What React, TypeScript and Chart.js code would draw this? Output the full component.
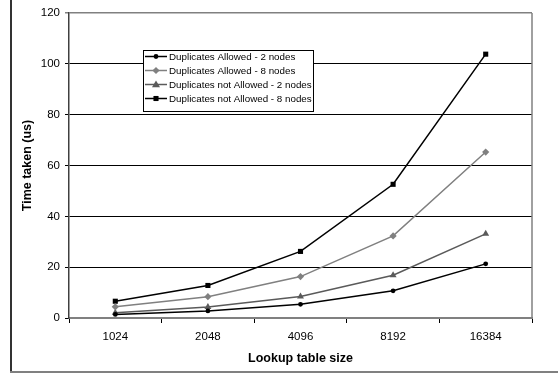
import React, { useEffect, useRef } from "react";
import { Chart, registerables } from "chart.js";

Chart.register(...registerables);

const categories = ["1024", "2048", "4096", "8192", "16384"];
const seriesNames = [
  "Duplicates Allowed - 2 nodes",
  "Duplicates Allowed - 8 nodes",
  "Duplicates not Allowed - 2 nodes",
  "Duplicates not Allowed - 8 nodes",
];
const dupAllowed2 = [1.4, 2.8, 5.4, 10.7, 21.3];
const dupAllowed8 = [4.4, 8.4, 16.3, 32.3, 65.3];
const notAllowed2 = [2.1, 4.3, 8.5, 16.8, 33.1];
const notAllowed8 = [6.6, 12.8, 26.2, 52.6, 103.8];
const yTicks = [0, 20, 40, 60, 80, 100, 120];

const FONT = "'Liberation Sans', Arial, sans-serif";

function drawMarker(ctx: CanvasRenderingContext2D, style: string, x: number, y: number, r: number, color: string) {
  ctx.save();
  ctx.fillStyle = color;
  ctx.beginPath();
  if (style === "circle") {
    ctx.arc(x, y, r, 0, Math.PI * 2);
  } else if (style === "rectRot") {
    ctx.moveTo(x, y - r);
    ctx.lineTo(x + r, y);
    ctx.lineTo(x, y + r);
    ctx.lineTo(x - r, y);
    ctx.closePath();
  } else if (style === "triangle") {
    ctx.moveTo(x, y - r);
    ctx.lineTo(x + r, y + r * 0.7);
    ctx.lineTo(x - r, y + r * 0.7);
    ctx.closePath();
  } else {
    const s = r * Math.SQRT1_2;
    ctx.rect(x - s, y - s, 2 * s, 2 * s);
  }
  ctx.fill();
  ctx.restore();
}

const framePlugin = {
  id: "frame",
  afterDraw(chart: any) {
    const ctx: CanvasRenderingContext2D = chart.ctx;
    const area = chart.chartArea;
    ctx.save();
    ctx.strokeStyle = "#808080";
    ctx.lineWidth = 1.5;
    ctx.beginPath();
    ctx.moveTo(area.right, area.top);
    ctx.lineTo(area.right, area.bottom);
    ctx.stroke();
    ctx.strokeStyle = "#333333";
    ctx.lineWidth = 2;
    ctx.beginPath();
    ctx.moveTo(11, 0);
    ctx.lineTo(11, 373);
    ctx.stroke();
    ctx.strokeStyle = "#808080";
    ctx.beginPath();
    ctx.moveTo(10, 372);
    ctx.lineTo(558, 372);
    ctx.stroke();

    const lx = 143, ly = 50, lw = 170, lh = 61;
    ctx.fillStyle = "#ffffff";
    ctx.fillRect(lx, ly, lw, lh);
    ctx.strokeStyle = "#000000";
    ctx.lineWidth = 1;
    ctx.strokeRect(lx + 0.5, ly + 0.5, lw, lh);
    ctx.font = `9.8px ${FONT}`;
    ctx.textBaseline = "middle";
    ctx.textAlign = "left";
    chart.data.datasets.forEach((ds: any, i: number) => {
      const y = ly + 6.5 + i * 14;
      ctx.strokeStyle = ds.borderColor;
      ctx.lineWidth = 1.5;
      ctx.beginPath();
      ctx.moveTo(lx + 2, y);
      ctx.lineTo(lx + 24, y);
      ctx.stroke();
      drawMarker(ctx, ds.pointStyle, lx + 13, y, ds.pointRadius, ds.pointBackgroundColor);
      ctx.fillStyle = "#000000";
      ctx.fillText(ds.label, lx + 26, y + 0.5);
    });
    ctx.restore();
  },
};

export default function App() {
  const canvasRef = useRef<HTMLCanvasElement | null>(null);

  useEffect(() => {
    document.body.style.margin = "0";
    const canvas = canvasRef.current;
    if (!canvas) return;
    const chart = new Chart(canvas, {
      type: "line",
      data: {
        labels: categories,
        datasets: [
          {
            label: seriesNames[0],
            data: dupAllowed2,
            borderColor: "#000000",
            backgroundColor: "#000000",
            pointBackgroundColor: "#000000",
            pointBorderWidth: 0,
            pointStyle: "circle",
            pointRadius: 2.4,
            borderWidth: 1.5,
          },
          {
            label: seriesNames[1],
            data: dupAllowed8,
            borderColor: "#808080",
            backgroundColor: "#808080",
            pointBackgroundColor: "#808080",
            pointBorderWidth: 0,
            pointStyle: "rectRot",
            pointRadius: 3.6,
            borderWidth: 1.5,
          },
          {
            label: seriesNames[2],
            data: notAllowed2,
            borderColor: "#5a5a5a",
            backgroundColor: "#5a5a5a",
            pointBackgroundColor: "#5a5a5a",
            pointBorderWidth: 0,
            pointStyle: "triangle",
            pointRadius: 4,
            borderWidth: 1.5,
          },
          {
            label: seriesNames[3],
            data: notAllowed8,
            borderColor: "#000000",
            backgroundColor: "#000000",
            pointBackgroundColor: "#000000",
            pointBorderWidth: 0,
            pointStyle: "rect",
            pointRadius: 3.6,
            borderWidth: 1.5,
          },
        ] as any,
      },
      options: {
        animation: false,
        responsive: true,
        maintainAspectRatio: false,
        layout: { padding: { left: 0, right: 26, top: 13, bottom: 0 } },
        plugins: {
          legend: { display: false },
          tooltip: { enabled: false },
        },
        elements: { line: { tension: 0 } },
        scales: {
          x: {
            type: "category",
            offset: true,
            grid: {
              offset: true,
              drawOnChartArea: false,
              drawTicks: true,
              tickLength: 5,
              color: "#000000",
              lineWidth: 1,
            },
            border: { display: true, color: "#808080", width: 2 },
            ticks: {
              color: "#000000",
              font: { family: FONT, size: 11.5 },
              padding: 7,
              maxRotation: 0,
            },
            title: {
              display: true,
              text: "Lookup table size",
              color: "#000000",
              font: { family: FONT, size: 12.5, weight: "bold" },
              padding: { top: 4, bottom: 9 },
            },
            afterFit(scale: any) {
              scale.height = 57;
            },
          },
          y: {
            min: 0,
            max: 120,
            afterBuildTicks(scale: any) {
              scale.ticks = yTicks.map((v) => ({ value: v }));
            },
            grid: {
              color: (c: any) => (c.tick && c.tick.value === 120 ? "#808080" : "#000000"),
              lineWidth: (c: any) => (c.tick && c.tick.value === 120 ? 1.5 : 1),
              drawTicks: true,
              tickLength: 4,
            },
            border: { display: true, color: "#404040", width: 1.5 },
            ticks: {
              color: "#000000",
              font: { family: FONT, size: 11.5 },
              padding: 5,
            },
            title: {
              display: true,
              text: "Time taken (us)",
              color: "#000000",
              font: { family: FONT, size: 12.5, weight: "bold" },
              padding: { top: 20, bottom: 4 },
            },
            afterFit(scale: any) {
              scale.width = 69;
            },
          },
        },
      } as any,
      plugins: [framePlugin],
    });
    return () => chart.destroy();
  }, []);

  return (
    <div style={{ position: "absolute", left: 0, top: 0, width: 558, height: 375, background: "#fff" }}>
      <canvas ref={canvasRef} />
    </div>
  );
}
